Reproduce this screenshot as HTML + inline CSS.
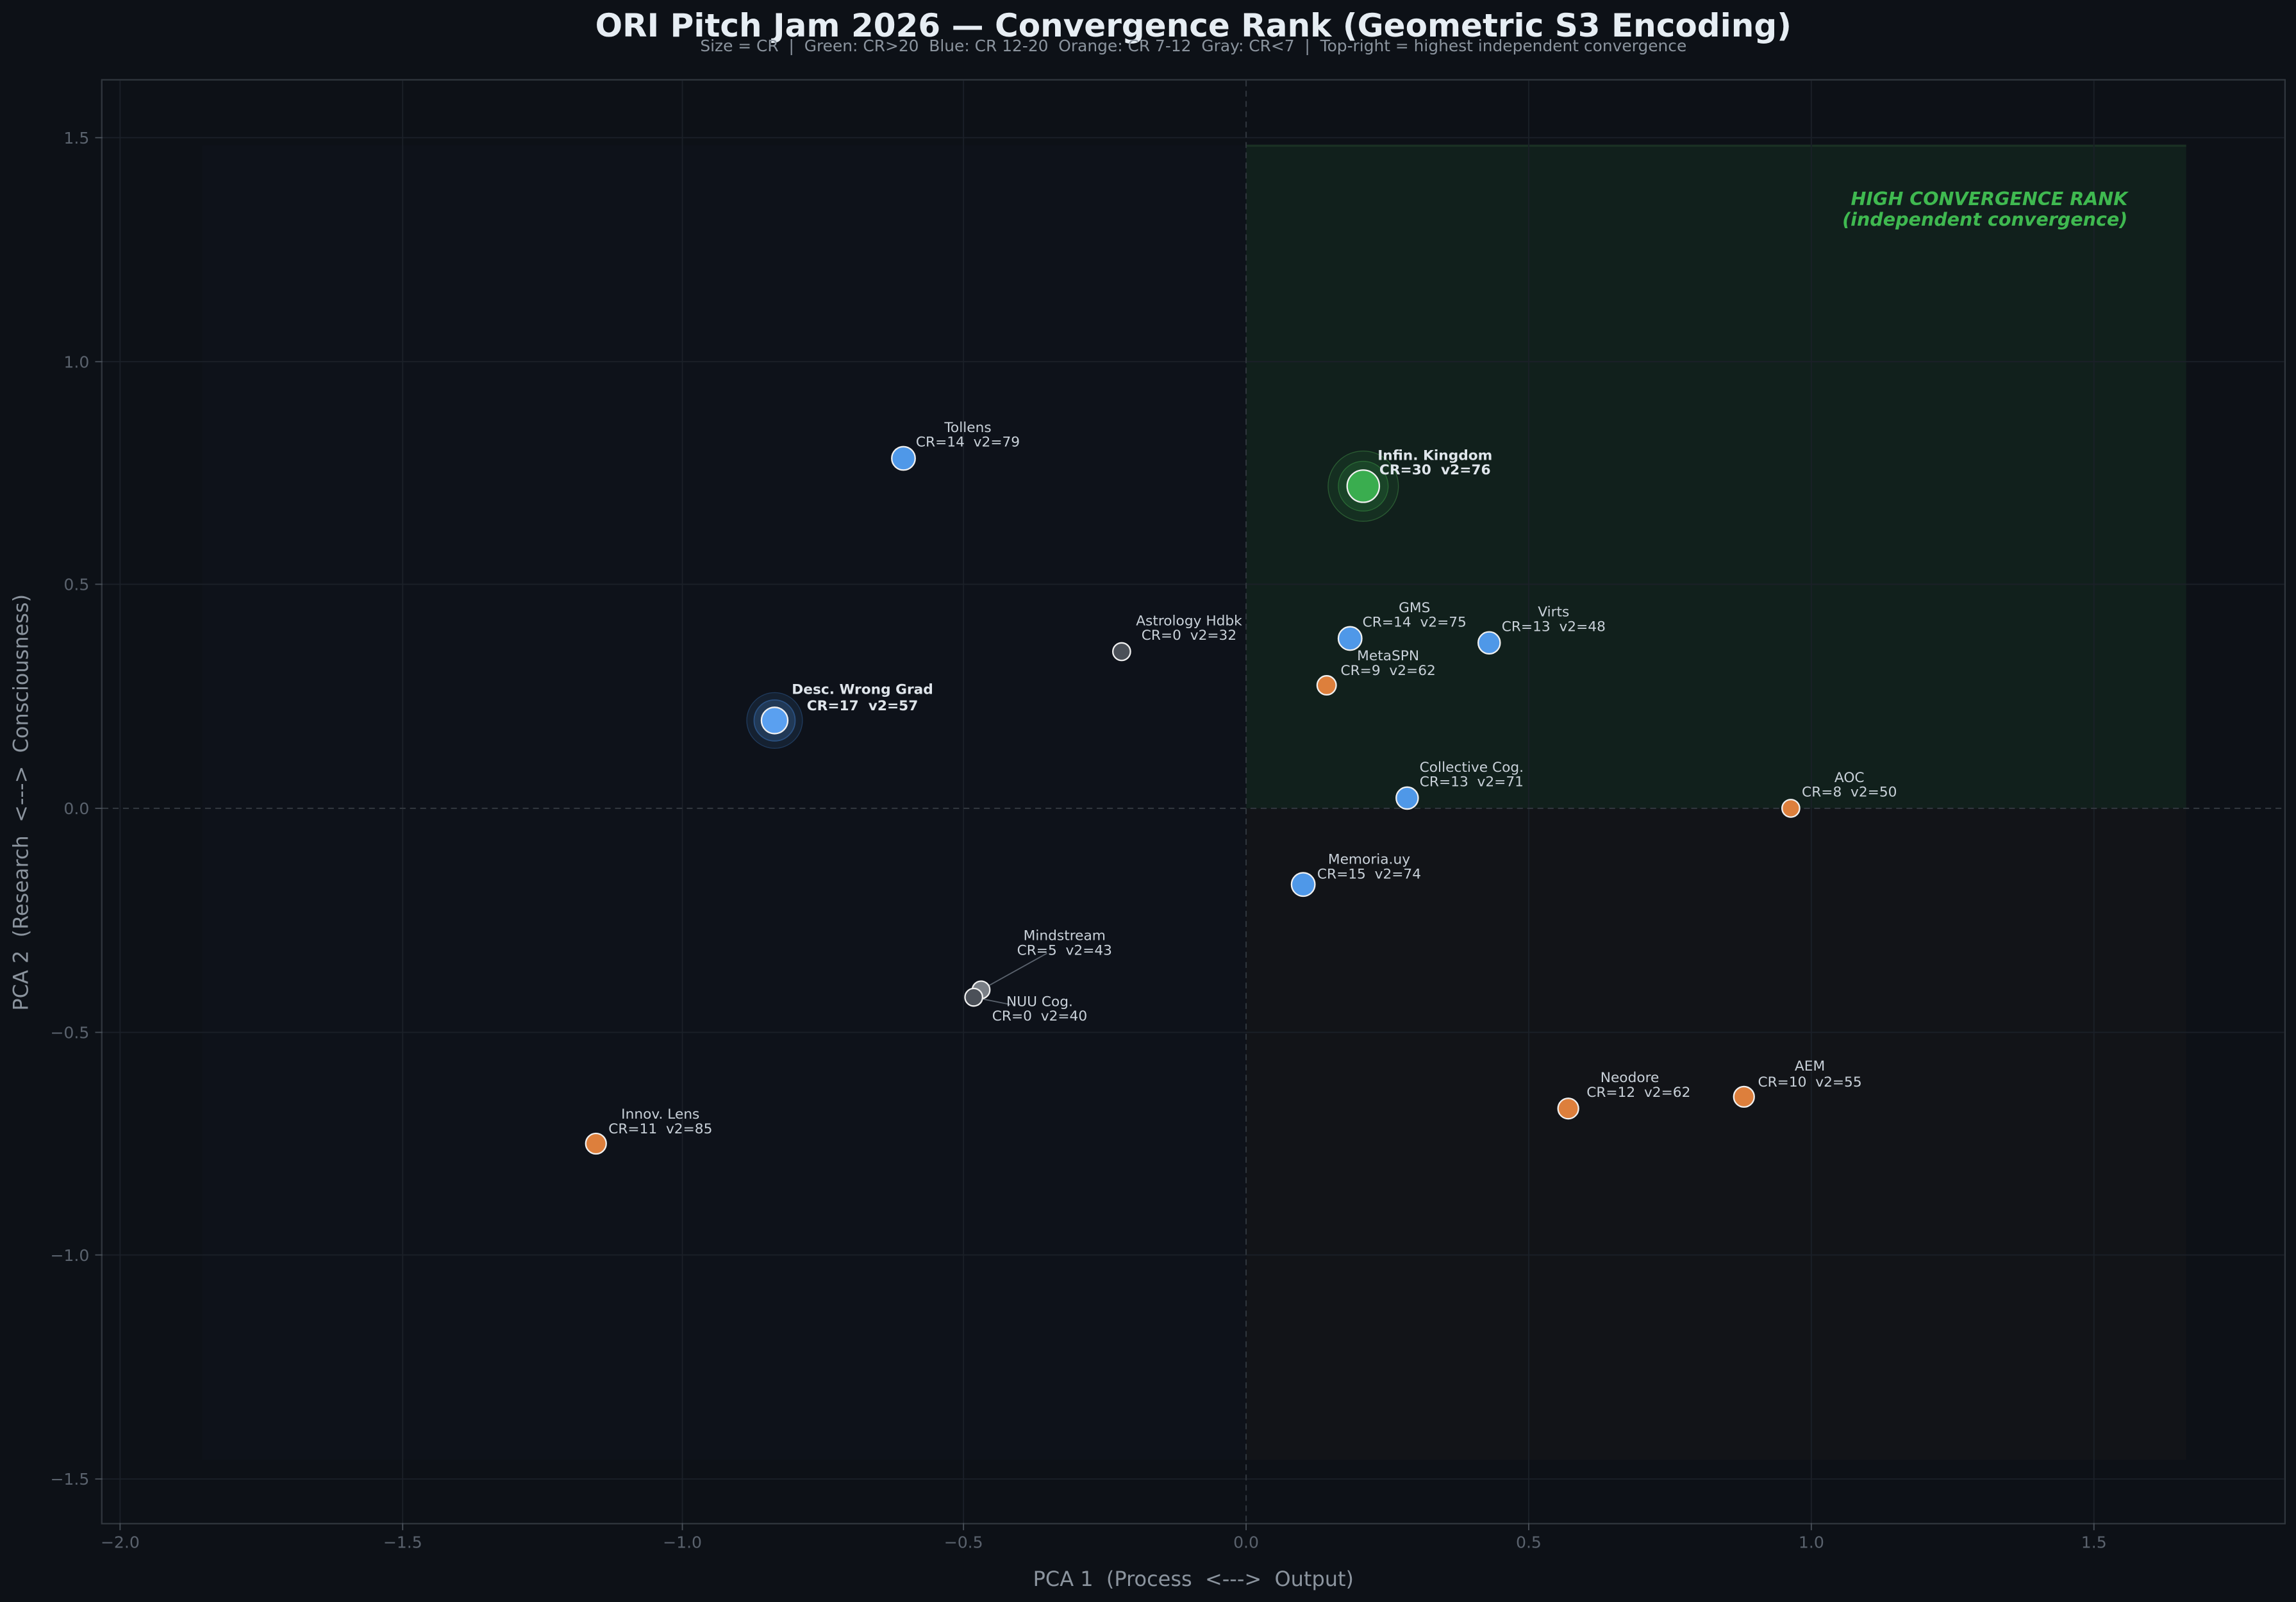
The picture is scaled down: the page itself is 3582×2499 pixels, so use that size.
<!DOCTYPE html>
<html><head><meta charset="utf-8"><style>
html,body{margin:0;padding:0;background:#0d1117;}
svg{display:block;}
text{font-family:"DejaVu Sans","Liberation Sans",sans-serif;white-space:pre;}
</style></head><body>
<svg width="3582" height="2499" viewBox="0 0 1568 1094" preserveAspectRatio="none" xmlns="http://www.w3.org/2000/svg" xml:space="preserve">
<rect x="0" y="0" width="1568" height="1094" fill="#0d1117"/>
<rect x="69.5" y="54.5" width="1491" height="986" fill="#0d1117" stroke="#30363d" stroke-width="1"/>
<rect x="138" y="99" width="713" height="453" fill="#0e121a"/>
<rect x="138" y="552" width="713" height="445" fill="#0e121a"/>
<rect x="851" y="552" width="642" height="445" fill="#121418"/>
<rect x="851" y="99" width="642" height="453" fill="#11201c"/>
<line x1="851" y1="99.5" x2="1493" y2="99.5" stroke="#1a3024" stroke-width="1.5"/>
<g stroke="#1b2028" stroke-width="0.8">
<line x1="82" y1="55" x2="82" y2="1040"/><line x1="275" y1="55" x2="275" y2="1040"/>
<line x1="466" y1="55" x2="466" y2="1040"/><line x1="658" y1="55" x2="658" y2="1040"/>
<line x1="1044" y1="55" x2="1044" y2="1040"/><line x1="1237" y1="55" x2="1237" y2="1040"/>
<line x1="1430" y1="55" x2="1430" y2="1040"/>
<line x1="70" y1="94" x2="1560" y2="94"/><line x1="70" y1="247" x2="1560" y2="247"/>
<line x1="70" y1="399" x2="1560" y2="399"/><line x1="70" y1="705" x2="1560" y2="705"/>
<line x1="70" y1="857" x2="1560" y2="857"/><line x1="70" y1="1010" x2="1560" y2="1010"/>
</g>
<g stroke="#30363d" stroke-width="0.9" stroke-dasharray="4,3">
<line x1="851" y1="55" x2="851" y2="1040"/><line x1="70" y1="552" x2="1560" y2="552"/>
</g>
<g stroke="#484f58" stroke-width="0.8">
<line x1="82" y1="1040" x2="82" y2="1045"/><line x1="275" y1="1040" x2="275" y2="1045"/><line x1="466" y1="1040" x2="466" y2="1045"/><line x1="658" y1="1040" x2="658" y2="1045"/><line x1="851" y1="1040" x2="851" y2="1045"/><line x1="1044" y1="1040" x2="1044" y2="1045"/><line x1="1237" y1="1040" x2="1237" y2="1045"/><line x1="1430" y1="1040" x2="1430" y2="1045"/>
<line x1="65" y1="94" x2="70" y2="94"/><line x1="65" y1="247" x2="70" y2="247"/><line x1="65" y1="399" x2="70" y2="399"/><line x1="65" y1="552" x2="70" y2="552"/><line x1="65" y1="705" x2="70" y2="705"/><line x1="65" y1="857" x2="70" y2="857"/><line x1="65" y1="1010" x2="70" y2="1010"/>
</g>
<g fill="#5a626d" font-size="11" text-anchor="middle">
<text x="82" y="1057">−2.0</text><text x="275" y="1057">−1.5</text><text x="466" y="1057">−1.0</text><text x="658" y="1057">−0.5</text><text x="851" y="1057">0.0</text><text x="1044" y="1057">0.5</text><text x="1237" y="1057">1.0</text><text x="1430" y="1057">1.5</text>
</g>
<g fill="#5a626d" font-size="11" text-anchor="end">
<text x="61" y="98">1.5</text><text x="61" y="251">1.0</text><text x="61" y="403">0.5</text><text x="61" y="556">0.0</text><text x="61" y="709">−0.5</text><text x="61" y="861">−1.0</text><text x="61" y="1014">−1.5</text>
</g>
<text x="815" y="1083" fill="#8b949e" font-size="14" text-anchor="middle">PCA 1  (Process  &lt;---&gt;  Output)</text>
<text transform="translate(19,548) rotate(-90)" fill="#8b949e" font-size="14" text-anchor="middle">PCA 2  (Research  &lt;---&gt;  Consciousness)</text>
<text x="815" y="25" fill="#e6edf3" font-size="21.9" font-weight="bold" text-anchor="middle">ORI Pitch Jam 2026 — Convergence Rank (Geometric S3 Encoding)</text>
<text x="815" y="35" fill="#8b949e" font-size="10.9" text-anchor="middle">Size = CR  |  Green: CR&gt;20  Blue: CR 12-20  Orange: CR 7-12  Gray: CR&lt;7  |  Top-right = highest independent convergence</text>
<g fill="#3fb950" font-size="12.5" font-weight="bold" font-style="italic" text-anchor="end">
<text x="1453" y="140">HIGH CONVERGENCE RANK</text><text x="1453" y="154">(independent convergence)</text>
</g>
<g stroke="#5a626d" stroke-width="0.8">
<line x1="715" y1="651" x2="670" y2="676"/><line x1="665" y1="681" x2="690" y2="686"/>
</g>
<circle cx="931" cy="332" r="24" fill="#3fb950" fill-opacity="0.1" stroke="#2a5a32" stroke-width="0.6"/>
<circle cx="931" cy="332" r="17" fill="#3fb950" fill-opacity="0.15" stroke="#2a6a35" stroke-width="0.6"/>
<circle cx="529" cy="492" r="19" fill="#58a6ff" fill-opacity="0.1" stroke="#1f3a5c" stroke-width="0.6"/>
<circle cx="529" cy="492" r="14" fill="#58a6ff" fill-opacity="0.18" stroke="#2a5080" stroke-width="0.8"/>
<g stroke="#f0f0f0" stroke-width="1">
<circle cx="617" cy="313" r="8" fill="#4f98e8"/>
<circle cx="931" cy="332" r="11" fill="#3aad4f"/>
<circle cx="766" cy="445" r="6" fill="#4b5058"/>
<circle cx="922" cy="436" r="8" fill="#4f98e8"/>
<circle cx="1017" cy="439" r="7.5" fill="#4f98e8"/>
<circle cx="906" cy="468" r="6.5" fill="#dd7f3c"/>
<circle cx="529" cy="492" r="9" fill="#5aa0f0"/>
<circle cx="961" cy="545" r="7.5" fill="#4f98e8"/>
<circle cx="1223" cy="552" r="6" fill="#dd7f3c"/>
<circle cx="890" cy="604" r="8" fill="#4f98e8"/>
<circle cx="670" cy="676" r="6" fill="#7a7f86"/>
<circle cx="665" cy="681" r="6" fill="#4b5058"/>
<circle cx="407" cy="781" r="7" fill="#dd7f3c"/>
<circle cx="1071" cy="757" r="7" fill="#dd7f3c"/>
<circle cx="1191" cy="749" r="7" fill="#dd7f3c"/>
</g>
<g fill="#c9d1d9" font-size="9.5" text-anchor="middle">
<text x="661" y="295">Tollens</text><text x="661" y="305">CR=14  v2=79</text>
<text x="812" y="427">Astrology Hdbk</text><text x="812" y="437">CR=0  v2=32</text>
<text x="966" y="418">GMS</text><text x="966" y="428">CR=14  v2=75</text>
<text x="1061" y="421">Virts</text><text x="1061" y="431">CR=13  v2=48</text>
<text x="948" y="451">MetaSPN</text><text x="948" y="461">CR=9  v2=62</text>
<text x="1005" y="527">Collective Cog.</text><text x="1005" y="537">CR=13  v2=71</text>
<text x="1263" y="534">AOC</text><text x="1263" y="544">CR=8  v2=50</text>
<text x="935" y="590">Memoria.uy</text><text x="935" y="600">CR=15  v2=74</text>
<text x="727" y="642">Mindstream</text><text x="727" y="652">CR=5  v2=43</text>
<text x="710" y="687">NUU Cog.</text><text x="710" y="697">CR=0  v2=40</text>
<text x="451" y="764">Innov. Lens</text><text x="451" y="774">CR=11  v2=85</text>
<text x="1113" y="739">Neodore</text><text x="1119" y="749">CR=12  v2=62</text>
<text x="1236" y="731">AEM</text><text x="1236" y="742">CR=10  v2=55</text>
</g>
<g fill="#dfe5eb" font-size="9.5" font-weight="bold" text-anchor="middle">
<text x="980" y="314">Infin. Kingdom</text><text x="980" y="324">CR=30  v2=76</text>
<text x="589" y="474">Desc. Wrong Grad</text><text x="589" y="485">CR=17  v2=57</text>
</g>
</svg>
</body></html>
